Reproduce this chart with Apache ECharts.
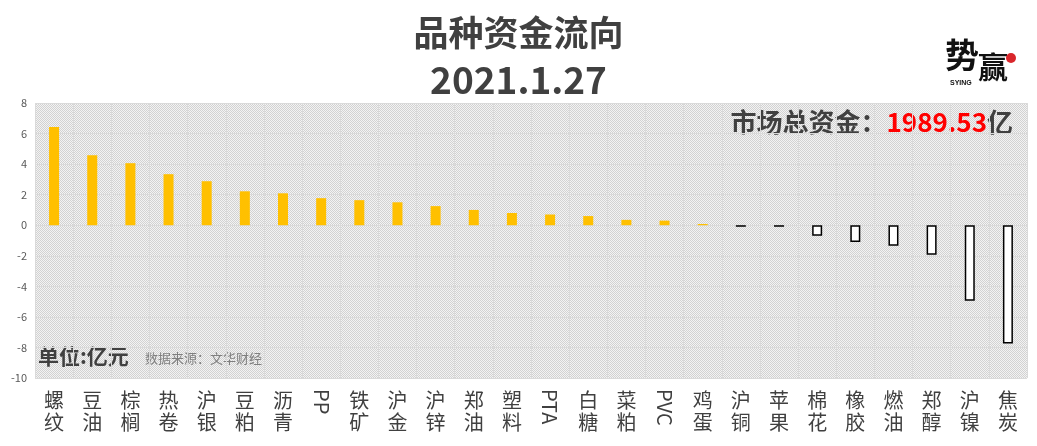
<!DOCTYPE html>
<html><head><meta charset="utf-8">
<script src="https://cdn.jsdelivr.net/npm/echarts@6/dist/echarts.min.js"></script>
<style>html,body{margin:0;padding:0;background:#fff}#c{width:1037px;height:446px}</style>
</head><body><div id="c"></div>
<script>
var categories = ['螺纹','豆油','棕榈','热卷','沪银','豆粕','沥青','PP','铁矿','沪金','沪锌','郑油','塑料','PTA','白糖','菜粕','PVC','鸡蛋','沪铜','苹果','棉花','橡胶','燃油','郑醇','沪镍','焦炭'];
var values = [6.43,4.58,4.06,3.34,2.88,2.22,2.09,1.77,1.64,1.50,1.25,1.00,0.80,0.70,0.60,0.35,0.30,0.08,-0.10,-0.10,-0.69,-1.09,-1.35,-1.94,-4.95,-7.74];
var yTicks = {min:-10, max:8, interval:2};
var titleText = '品种资金流向';
var dateText = '2021.1.27';
var totalLabel = '市场总资金：';
var totalValue = '1989.53';
var totalUnit = '亿';

var cv = document.createElement('canvas'); cv.width = 2; cv.height = 2;
var cx = cv.getContext('2d');
cx.fillStyle = '#f3f3f3'; cx.fillRect(0,0,2,2);
cx.fillStyle = '#d2d2d2'; cx.fillRect(0,0,1,1); cx.fillRect(1,1,1,1);

var isLatin = function(s){ return /^[A-Za-z]+$/.test(s); };
var font = '"Microsoft YaHei","Noto Sans CJK SC",sans-serif';

var chart = echarts.init(document.getElementById('c'));
chart.setOption({
  backgroundColor:'#fff',
  animation:false,
  title:[
    {text:titleText, left:'center', top:10, textStyle:{fontSize:35, fontWeight:'bold', color:'#404040', fontFamily:font}},
    {text:dateText, left:'center', top:56, textStyle:{fontSize:37, fontWeight:'bold', color:'#404040', fontFamily:font}}
  ],
  grid:{left:35, right:10, top:103, bottom:68, show:true, borderWidth:0, backgroundColor:{image:cv, repeat:'repeat'}},
  xAxis:[{
    type:'category', data:categories, position:'bottom',
    axisLine:{show:false}, axisTick:{show:false},
    splitLine:{show:true, interval:0, lineStyle:{color:'#dadada', width:1}},
    axisLabel:{interval:0, margin:11, fontSize:20, lineHeight:22, color:'#404040', fontFamily:font,
      formatter:function(v){ return isLatin(v) ? '' : v.split('').join('\n'); }}
  },{
    type:'category', data:categories, position:'bottom', gridIndex:0,
    axisLine:{show:false}, axisTick:{show:false}, splitLine:{show:false},
    axisLabel:{interval:0, margin:11, rotate:-90, fontSize:20, color:'#404040', fontFamily:font,
      formatter:function(v){ return isLatin(v) ? v : ''; }}
  }],
  yAxis:{
    type:'value', min:yTicks.min, max:yTicks.max, interval:yTicks.interval,
    axisLine:{show:false}, axisTick:{show:false},
    axisLabel:{fontSize:11, color:'#595959', margin:8, fontFamily:font},
    splitLine:{show:true, lineStyle:{color:'#dadada', width:1}}
  },
  series:[{
    type:'bar', xAxisIndex:0, barWidth:10,
    data: values.map(function(v){
      return v >= 0 ? {value:v, itemStyle:{color:'#FFC000'}}
                    : {value:v, itemStyle:{color:'#ffffff', borderColor:'#000', borderWidth:1.5}};
    })
  }],
  graphic:[
    {type:'text', right:24, top:109, style:{
      text:'{a|'+totalLabel+'}{b|'+totalValue+'}{a|'+totalUnit+'}',
      rich:{a:{fontSize:26, fontWeight:'bold', fill:'#404040', fontFamily:font},
            b:{fontSize:26, fontWeight:'bold', fill:'#ff0000', fontFamily:font}}}},
    {type:'text', left:38, top:346, style:{text:'单位:亿元', font:'bold 21px '+font, fill:'#404040'}},
    {type:'text', left:145, top:352, style:{text:'数据来源：文华财经', font:'13px '+font, fill:'#7f7f7f'}},
    {type:'text', left:945, top:38, style:{text:'势', font:'bold 34px "Noto Sans CJK SC",serif', fill:'#111'}},
    {type:'text', left:978, top:52, style:{text:'赢', font:'bold 30px "Noto Sans CJK SC",serif', fill:'#111'}},
    {type:'text', left:950, top:80, style:{text:'SYING', font:'bold 7px sans-serif', fill:'#111'}},
    {type:'circle', shape:{cx:1011, cy:58, r:5}, style:{fill:'#d9262b'}}
  ]
});
</script>
</body></html>
